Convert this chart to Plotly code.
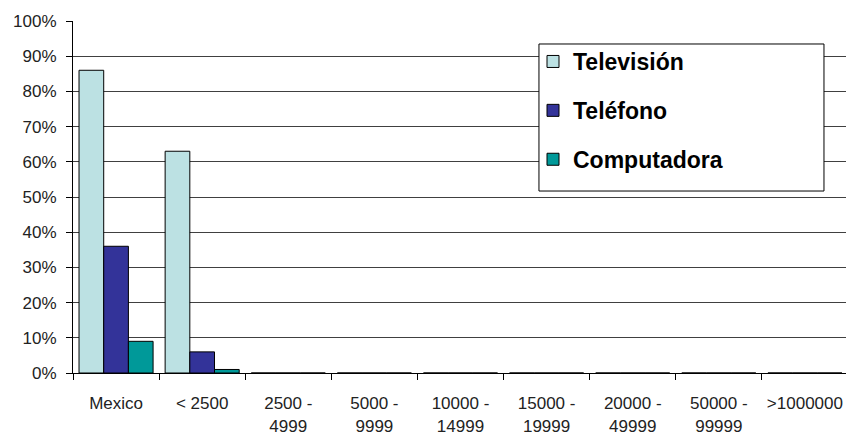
import plotly.graph_objects as go

# Household access by locality size (percent of households)
categories = ["Mexico", "< 2500", "2500 -<br>4999", "5000 -<br>9999", "10000 -<br>14999",
              "15000 -<br>19999", "20000 -<br>49999", "50000 -<br>99999", ">1000000"]
television = [86, 63, 0, 0, 0, 0, 0, 0, 0]
telefono = [36, 6, 0, 0, 0, 0, 0, 0, 0]
computadora = [9, 1, 0, 0, 0, 0, 0, 0, 0]

series = [
    ("Televisión", television, "#BCE1E3"),
    ("Teléfono", telefono, "#333399"),
    ("Computadora", computadora, "#009999"),
]

fig = go.Figure()
for name, vals, color in series:
    fig.add_trace(go.Bar(
        x=categories, y=vals, name=name, legendgroup=name,
        marker=dict(color=color, line=dict(color="#000000", width=1)),
    ))

tick_font = dict(family="Liberation Sans, Arial, sans-serif", size=17, color="#222222")

# framed white panel behind the legend entries
fig.add_shape(
    type="rect", xref="paper", yref="paper",
    x0=0.6028, x1=0.9715, y0=0.517, y1=0.9347,
    line=dict(color="#000000", width=1), fillcolor="white", layer="above",
)

fig.update_layout(
    width=846, height=437,
    margin=dict(l=73, r=0, t=21, b=64),
    paper_bgcolor="white", plot_bgcolor="white",
    barmode="group", bargap=0.14, bargroupgap=0,
    showlegend=True,
    legend=dict(
        x=0.5951, y=0.946, xanchor="left", yanchor="top",
        bgcolor="rgba(0,0,0,0)", borderwidth=0,
        font=dict(family="Liberation Sans, Arial, sans-serif", size=23, color="#000000", weight="bold"),
        tracegroupgap=16,
    ),
    xaxis=dict(
        type="category", range=[-0.5, 8.477],
        tickson="boundaries", ticks="outside", ticklen=6, tickcolor="#000000",
        showline=True, linecolor="#000000", linewidth=1,
        showgrid=False, zeroline=False,
        tickfont=tick_font, ticklabelstandoff=15,
    ),
    yaxis=dict(
        range=[0, 100], dtick=10, ticksuffix="%",
        ticks="outside", ticklen=6, tickcolor="#000000",
        showline=True, linecolor="#000000", linewidth=1,
        showgrid=True, gridcolor="#404040", gridwidth=1,
        zeroline=False, tickfont=tick_font, ticklabelstandoff=6,
    ),
)

fig.write_html("out.html")
